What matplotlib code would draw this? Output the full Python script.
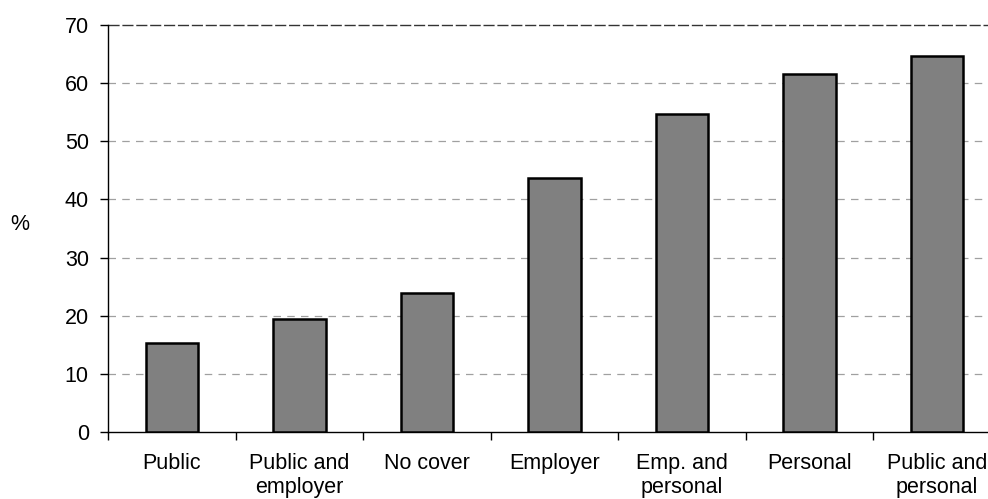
import matplotlib
matplotlib.use("Agg")
import matplotlib.pyplot as plt
import numpy as np

categories = ["Public", "Public and\nemployer", "No cover", "Employer",
              "Emp. and\npersonal", "Personal", "Public and\npersonal"]
values = [15.4, 19.4, 23.9, 43.6, 54.6, 61.6, 64.7]
yticks = [0, 10, 20, 30, 40, 50, 60, 70]

plt.rcParams['font.family'] = ['Liberation Sans', 'DejaVu Sans']
FS = 15.5

fig = plt.figure(figsize=(9.88, 4.99), dpi=100)
ax = fig.add_axes([108/988, 66.7/499, 893/988, 407.6/499])

x = np.arange(len(categories)) + 0.5
ax.bar(x, values, width=0.41, color="#808080", edgecolor="black", linewidth=1.8, zorder=3)

ax.set_xlim(0, len(categories))
ax.set_ylim(0, 70)
ax.set_yticks(yticks)
ax.set_yticklabels([str(t) for t in yticks], fontsize=FS)
for t in yticks[1:-1]:
    ax.axhline(t, color="#a0a0a0", linestyle=(0, (6, 5)), linewidth=0.9, zorder=1)
ax.axhline(70, color="#333333", linestyle=(0, (8, 2)), linewidth=1.0, zorder=1, clip_on=False)

ax.set_xticks(np.arange(len(categories) + 1))
ax.set_xticklabels([])
ax.set_xticks(x, minor=True)
ax.set_xticklabels(categories, minor=True, fontsize=FS, linespacing=1.2)
ax.tick_params(axis="x", which="major", length=5.8, width=1, direction="out")
ax.tick_params(axis="x", which="minor", length=0, pad=15)
ax.tick_params(axis="y", length=5.8, width=1, direction="out", pad=8)

for s in ["top", "right"]:
    ax.spines[s].set_visible(False)
ax.spines["left"].set_linewidth(1.0)
ax.spines["bottom"].set_linewidth(1.0)

fig.text(20/988, 1 - 224/499, "%", fontsize=FS, ha="center", va="center")

fig.savefig("out.png", dpi=100)
